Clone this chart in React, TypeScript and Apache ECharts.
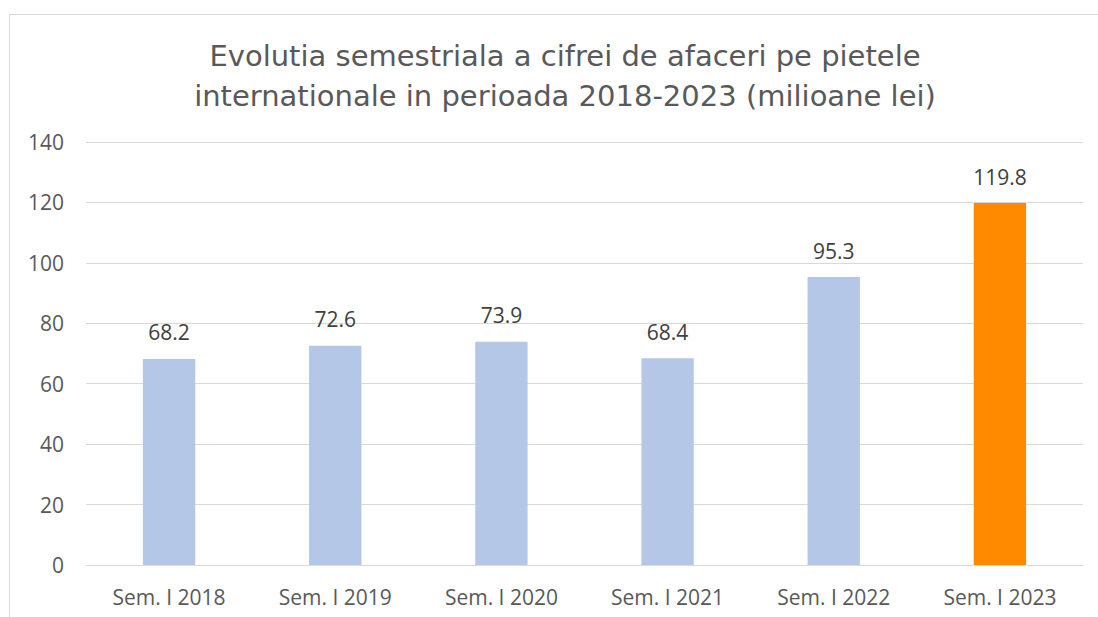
import React, { useEffect, useRef } from "react";
import * as echarts from "echarts";

const categories = ["Sem. I 2018", "Sem. I 2019", "Sem. I 2020", "Sem. I 2021", "Sem. I 2022", "Sem. I 2023"];
const values = [68.2, 72.6, 73.9, 68.4, 95.3, 119.8];
const barColors = ["#B4C7E7", "#B4C7E7", "#B4C7E7", "#B4C7E7", "#B4C7E7", "#FF8A00"];
const titleLines = [
  "Evolutia semestriala a cifrei de afaceri pe pietele",
  "internationale in perioada 2018-2023 (milioane lei)",
];

export default function App() {
  const ref = useRef<HTMLDivElement>(null);
  useEffect(() => {
    if (!ref.current) return;
    const chart = echarts.init(ref.current, null, { renderer: "svg" });
    chart.setOption({
      animation: false,
      backgroundColor: "#ffffff",
      graphic: [
        {
          type: "rect",
          shape: { x: 9.5, y: 14.5, width: 1200, height: 700 },
          style: { fill: "none", stroke: "#D9D9D9", lineWidth: 1 },
          z: -1,
        },
      ],
      title: {
        text: titleLines.join("\n"),
        left: 560,
        top: 31,
        textAlign: "center",
        textStyle: {
          fontFamily: "DejaVu Sans",
          fontSize: 29,
          fontWeight: "normal",
          color: "#595959",
          lineHeight: 40,
        },
      },
      grid: { left: 86, right: 15, top: 142, bottom: 52, containLabel: false },
      xAxis: {
        type: "category",
        data: categories,
        axisLine: { show: true, lineStyle: { color: "#D9D9D9", width: 1 } },
        axisTick: { show: false },
        axisLabel: {
          color: "#595959",
          fontSize: 21,
          fontFamily: "Open Sans",
          margin: 21,
        },
      },
      yAxis: {
        type: "value",
        min: 0,
        max: 140,
        interval: 20,
        axisLine: { show: false },
        axisTick: { show: false },
        splitLine: { lineStyle: { color: "#D9D9D9", width: 1 } },
        axisLabel: {
          color: "#595959",
          fontSize: 21,
          fontFamily: "Open Sans",
          margin: 22,
        },
      },
      series: [
        {
          type: "bar",
          barWidth: "31.5%",
          data: values.map((v, i) => ({ value: v, itemStyle: { color: barColors[i] } })),
          label: {
            show: true,
            position: "top",
            distance: 16,
            color: "#404040",
            fontSize: 21,
            fontFamily: "Open Sans",
            formatter: (p: any) => p.value.toFixed(1),
          },
        },
      ],
    });
    return () => chart.dispose();
  }, []);
  return <div ref={ref} style={{ position: "fixed", left: 0, top: 0, width: 1098, height: 617 }} />;
}
